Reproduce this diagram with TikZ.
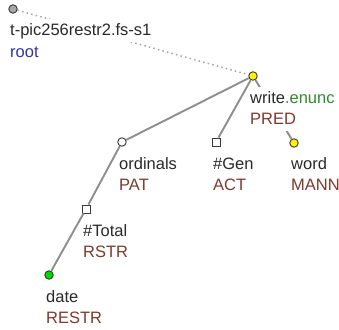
\documentclass[tikz,border=0pt]{standalone}
\usepackage{fontspec}
\setmainfont{Liberation Sans}
\definecolor{txt}{HTML}{2A2A2A}
\definecolor{fun}{HTML}{7F3A2C}
\definecolor{grn}{HTML}{2E8B2E}
\definecolor{blu}{HTML}{3434A8}
\definecolor{edge}{HTML}{8E8E8E}
\definecolor{outl}{HTML}{3A3A3A}
\begin{document}
\begin{tikzpicture}[x=1pt,y=-1pt,
  tnode/.style={draw=outl,line width=0.9pt,inner sep=0pt,minimum size=8.5pt},
  tcirc/.style={tnode,circle},
  tsq/.style={tnode,rectangle,minimum size=8pt},
  lbl/.style={anchor=base west,fill=white,inner xsep=1pt,inner ysep=2pt,
    text height=14.5pt,text depth=4.5pt,font=\fontsize{16.5}{20}\selectfont,text=txt},
  fn/.style={lbl,text=fun},
  tedge/.style={draw=edge,line width=1.9pt},
  dedge/.style={draw=edge!80,line width=1.5pt,dash pattern=on 1.5pt off 3.2pt}]
\useasboundingbox (0,0) rectangle (339,329);
% tree nodes
\node[tcirc,fill=gray!70] (root) at (13,9) {};
\node[tcirc,fill=yellow] (write) at (253,76) {};
\node[tcirc,fill=white] (ord) at (122,142) {};
\node[tsq,fill=white] (gen) at (216,142) {};
\node[tcirc,fill=yellow] (word) at (294,143) {};
\node[tsq,fill=white] (total) at (86,209) {};
\node[tcirc,fill=green!85!black] (date) at (49,275) {};
% edges
\draw[dedge] (root) -- (write);
\draw[tedge] (write) -- (ord);
\draw[tedge] (write) -- (gen);
\draw[tedge] (write) -- (word);
\draw[tedge] (ord) -- (total);
\draw[tedge] (total) -- (date);
% labels
\node[lbl] (rootA) at (9,36) {t-pic256restr2.fs-s1};
\node[lbl,text=blu] (rootB) at (9,57) {root};
\node[lbl] (writeA) at (249,103) {write\textcolor{grn}{.enunc}};
\node[fn] (writeB) at (249,124) {PRED};
\node[lbl] (ordA) at (118,169) {ordinals};
\node[fn] (ordB) at (118,190) {PAT};
\node[lbl] (genA) at (212,169) {\#Gen};
\node[fn] (genB) at (212,190) {ACT};
\node[lbl] (wordA) at (290,169) {word};
\node[fn] (wordB) at (290,190) {MANN};
\node[lbl] (totalA) at (82,236) {\#Total};
\node[fn] (totalB) at (82,257) {RSTR};
\node[lbl] (dateA) at (45,302) {date};
\node[fn] (dateB) at (45,323) {RESTR};
\end{tikzpicture}
\end{document}
